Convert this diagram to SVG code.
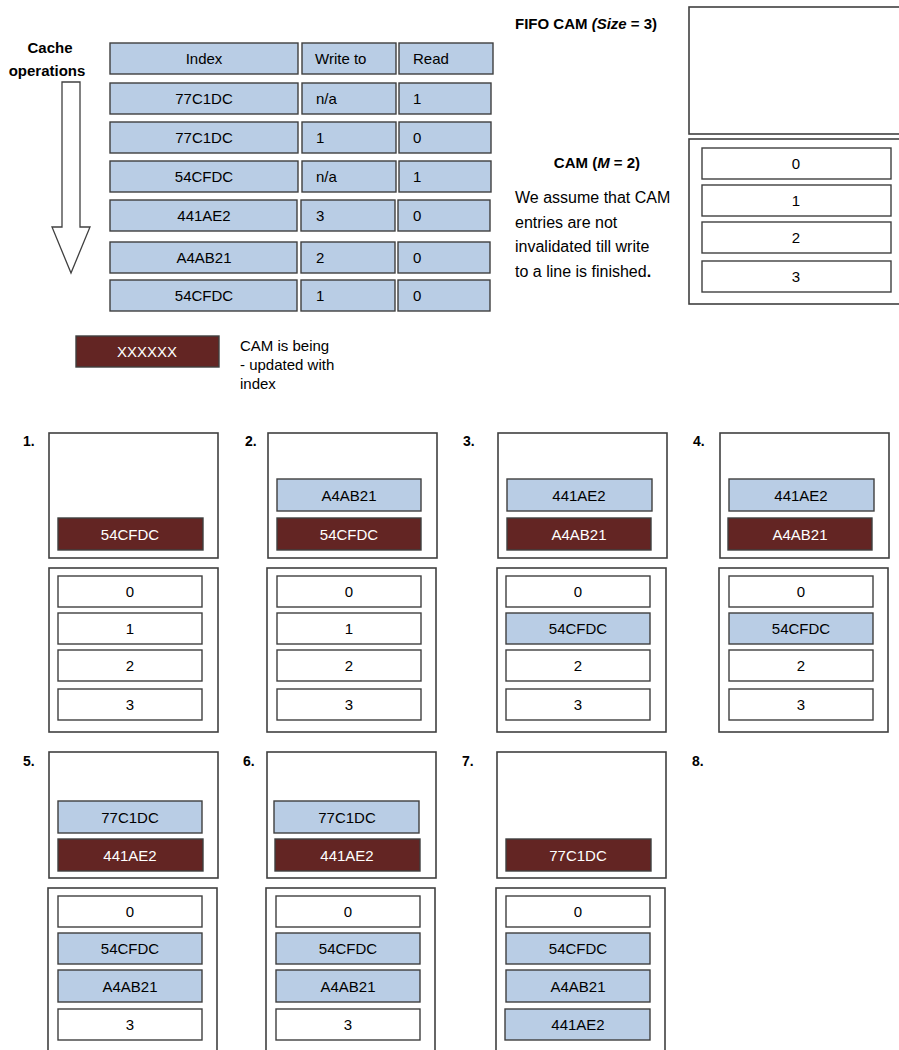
<svg xmlns="http://www.w3.org/2000/svg" width="899" height="1050" viewBox="0 0 899 1050">
  <style>
    text { font-family: "Liberation Sans", Arial, sans-serif; fill: #000; }
    .cell { fill: #b9cde5; stroke: #3f3f3f; stroke-width: 1.4; }
    .hot { fill: #632523; stroke: #3f3f3f; stroke-width: 1.4; }
    .slot { fill: #fff; stroke: #3f3f3f; stroke-width: 1.4; }
    .frame { fill: #fff; stroke: #404040; stroke-width: 1.6; }
    .t { font-size: 15px; }
    .p { font-size: 16px; }
    .c { font-size: 15px; text-anchor: middle; }
    .w { font-size: 15px; text-anchor: middle; fill: #fff; }
    .b { font-size: 14px; font-weight: bold; }
    .h { font-size: 15px; font-weight: bold; }
  </style>
  <rect width="899" height="1050" fill="#fff"/>

  <!-- cache operations arrow -->
  <g id="ops">
    <text class="h" x="50" y="53" text-anchor="middle">Cache</text>
    <text class="h" x="47" y="76" text-anchor="middle">operations</text>
    <path d="M62,82 L80,82 L80,227 L90,227 L71,273 L52,227 L62,227 Z" fill="#fff" stroke="#404040" stroke-width="1.3"/>
  </g>

  <!-- operation table -->
  <g id="table">
    <rect class="cell" x="110" y="43" width="188" height="31"/>
    <rect class="cell" x="302" y="43" width="94" height="31"/>
    <rect class="cell" x="399" y="43" width="94" height="31"/>
    <text class="c" x="204" y="64">Index</text>
    <text class="t" x="315" y="64">Write to</text>
    <text class="t" x="413" y="64">Read</text>

    <rect class="cell" x="110" y="83" width="188" height="31"/>
    <rect class="cell" x="302" y="83" width="94" height="31"/>
    <rect class="cell" x="399" y="83" width="92" height="31"/>
    <text class="c" x="204" y="104">77C1DC</text>
    <text class="t" x="316" y="104">n/a</text>
    <text class="t" x="413" y="104">1</text>

    <rect class="cell" x="110" y="122" width="188" height="31"/>
    <rect class="cell" x="302" y="122" width="94" height="31"/>
    <rect class="cell" x="399" y="122" width="92" height="31"/>
    <text class="c" x="204" y="143">77C1DC</text>
    <text class="t" x="316" y="143">1</text>
    <text class="t" x="413" y="143">0</text>

    <rect class="cell" x="110" y="161" width="188" height="31"/>
    <rect class="cell" x="302" y="161" width="94" height="31"/>
    <rect class="cell" x="399" y="161" width="92" height="31"/>
    <text class="c" x="204" y="182">54CFDC</text>
    <text class="t" x="316" y="182">n/a</text>
    <text class="t" x="413" y="182">1</text>

    <rect class="cell" x="110" y="200" width="187" height="31"/>
    <rect class="cell" x="301" y="200" width="94" height="31"/>
    <rect class="cell" x="398" y="200" width="92" height="31"/>
    <text class="c" x="204" y="221">441AE2</text>
    <text class="t" x="316" y="221">3</text>
    <text class="t" x="413" y="221">0</text>

    <rect class="cell" x="110" y="242" width="187" height="31"/>
    <rect class="cell" x="301" y="242" width="94" height="31"/>
    <rect class="cell" x="398" y="242" width="92" height="31"/>
    <text class="c" x="204" y="263">A4AB21</text>
    <text class="t" x="316" y="263">2</text>
    <text class="t" x="413" y="263">0</text>

    <rect class="cell" x="110" y="280" width="187" height="31"/>
    <rect class="cell" x="301" y="280" width="94" height="31"/>
    <rect class="cell" x="398" y="280" width="92" height="31"/>
    <text class="c" x="204" y="301">54CFDC</text>
    <text class="t" x="316" y="301">1</text>
    <text class="t" x="413" y="301">0</text>
  </g>

  <!-- FIFO CAM and CAM overview -->
  <g id="overview">
    <text class="h" x="515" y="29">FIFO CAM <tspan font-style="italic">(Size</tspan> = 3)</text>
    <rect class="frame" x="689" y="7" width="220" height="127"/>
    <text class="h" x="597" y="168" text-anchor="middle">CAM (<tspan font-style="italic">M</tspan> = 2)</text>
    <text class="p" x="515" y="203">We assume that CAM</text>
    <text class="p" x="515" y="228">entries are not</text>
    <text class="p" x="515" y="252">invalidated till write</text>
    <text class="p" x="515" y="277">to a line is finished<tspan font-weight="bold">.</tspan></text>
    <rect class="frame" x="689" y="139" width="220" height="165"/>
    <rect class="slot" x="702" y="148" width="189" height="31"/>
    <rect class="slot" x="702" y="185" width="189" height="31"/>
    <rect class="slot" x="702" y="222" width="189" height="31"/>
    <rect class="slot" x="702" y="261" width="189" height="31"/>
    <text class="c" x="796" y="169">0</text>
    <text class="c" x="796" y="206">1</text>
    <text class="c" x="796" y="243">2</text>
    <text class="c" x="796" y="282">3</text>
  </g>

  <!-- legend -->
  <g id="legend">
    <rect class="hot" x="76" y="336" width="143" height="31"/>
    <text class="w" x="147" y="357" font-size="13">XXXXXX</text>
    <text class="t" x="240" y="351" font-size="15.5">CAM is being</text>
    <text class="t" x="240" y="370" font-size="15.5">- updated with</text>
    <text class="t" x="240" y="389" font-size="15.5">index</text>
  </g>

  <!-- step 1 -->
  <g id="step1">
    <text class="b" x="23" y="446">1.</text>
    <g transform="translate(49,433)">
      <rect class="frame" x="0" y="0" width="169" height="125"/>
      <rect class="hot" x="9" y="85" width="145" height="32"/>
      <text class="w" x="81" y="107">54CFDC</text>
      <rect class="frame" x="0" y="135" width="169" height="164"/>
      <rect class="slot" x="9" y="143" width="144" height="31"/>
      <rect class="slot" x="9" y="180" width="144" height="31"/>
      <rect class="slot" x="9" y="217" width="144" height="31"/>
      <rect class="slot" x="9" y="256" width="144" height="31"/>
      <text class="c" x="81" y="164">0</text>
      <text class="c" x="81" y="201">1</text>
      <text class="c" x="81" y="238">2</text>
      <text class="c" x="81" y="277">3</text>
    </g>
  </g>

  <!-- step 2 -->
  <g id="step2">
    <text class="b" x="245" y="446">2.</text>
    <g transform="translate(268,433)">
      <rect class="frame" x="0" y="0" width="169" height="125"/>
      <rect class="cell" x="9" y="46" width="144" height="32"/>
      <text class="c" x="81" y="68">A4AB21</text>
      <rect class="hot" x="9" y="85" width="144" height="32"/>
      <text class="w" x="81" y="107">54CFDC</text>
      <rect class="frame" x="-1" y="135" width="169" height="164"/>
      <rect class="slot" x="9" y="143" width="144" height="31"/>
      <rect class="slot" x="9" y="180" width="144" height="31"/>
      <rect class="slot" x="9" y="217" width="144" height="31"/>
      <rect class="slot" x="9" y="256" width="144" height="31"/>
      <text class="c" x="81" y="164">0</text>
      <text class="c" x="81" y="201">1</text>
      <text class="c" x="81" y="238">2</text>
      <text class="c" x="81" y="277">3</text>
    </g>
  </g>

  <!-- step 3 -->
  <g id="step3">
    <text class="b" x="463" y="446">3.</text>
    <g transform="translate(498,433)">
      <rect class="frame" x="0" y="0" width="169" height="125"/>
      <rect class="cell" x="9" y="46" width="145" height="32"/>
      <text class="c" x="81" y="68">441AE2</text>
      <rect class="hot" x="9" y="85" width="144" height="32"/>
      <text class="w" x="81" y="107">A4AB21</text>
      <rect class="frame" x="-1" y="135" width="169" height="164"/>
      <rect class="slot" x="8" y="143" width="144" height="31"/>
      <rect class="cell" x="8" y="180" width="144" height="31"/>
      <rect class="slot" x="8" y="217" width="144" height="31"/>
      <rect class="slot" x="8" y="256" width="144" height="31"/>
      <text class="c" x="80" y="164">0</text>
      <text class="c" x="80" y="201">54CFDC</text>
      <text class="c" x="80" y="238">2</text>
      <text class="c" x="80" y="277">3</text>
    </g>
  </g>

  <!-- step 4 -->
  <g id="step4">
    <text class="b" x="693" y="446">4.</text>
    <g transform="translate(720,433)">
      <rect class="frame" x="0" y="0" width="169" height="125"/>
      <rect class="cell" x="9" y="46" width="145" height="32"/>
      <text class="c" x="81" y="68">441AE2</text>
      <rect class="hot" x="8" y="85" width="144" height="32"/>
      <text class="w" x="80" y="107">A4AB21</text>
      <rect class="frame" x="-1" y="135" width="169" height="164"/>
      <rect class="slot" x="9" y="143" width="144" height="31"/>
      <rect class="cell" x="9" y="180" width="144" height="31"/>
      <rect class="slot" x="9" y="217" width="144" height="31"/>
      <rect class="slot" x="9" y="256" width="144" height="31"/>
      <text class="c" x="81" y="164">0</text>
      <text class="c" x="81" y="201">54CFDC</text>
      <text class="c" x="81" y="238">2</text>
      <text class="c" x="81" y="277">3</text>
    </g>
  </g>

  <!-- step 5 -->
  <g id="step5">
    <text class="b" x="23" y="766">5.</text>
    <g transform="translate(49,752)">
      <rect class="frame" x="0" y="0" width="169" height="126"/>
      <rect class="cell" x="9" y="49" width="144" height="32"/>
      <text class="c" x="81" y="71">77C1DC</text>
      <rect class="hot" x="9" y="87" width="145" height="32"/>
      <text class="w" x="81" y="109">441AE2</text>
      <rect class="frame" x="-1" y="136" width="169" height="175"/>
      <rect class="slot" x="9" y="144" width="144" height="31"/>
      <rect class="cell" x="9" y="181" width="144" height="31"/>
      <rect class="cell" x="9" y="218" width="144" height="32"/>
      <rect class="slot" x="9" y="257" width="144" height="31"/>
      <text class="c" x="81" y="165">0</text>
      <text class="c" x="81" y="202">54CFDC</text>
      <text class="c" x="81" y="240">A4AB21</text>
      <text class="c" x="81" y="278">3</text>
    </g>
  </g>

  <!-- step 6 -->
  <g id="step6">
    <text class="b" x="243" y="766">6.</text>
    <g transform="translate(267,752)">
      <rect class="frame" x="0" y="0" width="169" height="126"/>
      <rect class="cell" x="7" y="49" width="145" height="32"/>
      <text class="c" x="80" y="71">77C1DC</text>
      <rect class="hot" x="8" y="87" width="145" height="32"/>
      <text class="w" x="80" y="109">441AE2</text>
      <rect class="frame" x="-1" y="136" width="169" height="175"/>
      <rect class="slot" x="9" y="144" width="144" height="31"/>
      <rect class="cell" x="9" y="181" width="144" height="31"/>
      <rect class="cell" x="9" y="218" width="144" height="32"/>
      <rect class="slot" x="9" y="257" width="144" height="31"/>
      <text class="c" x="81" y="165">0</text>
      <text class="c" x="81" y="202">54CFDC</text>
      <text class="c" x="81" y="240">A4AB21</text>
      <text class="c" x="81" y="278">3</text>
    </g>
  </g>

  <!-- step 7 -->
  <g id="step7">
    <text class="b" x="462" y="766">7.</text>
    <g transform="translate(497,752)">
      <rect class="frame" x="0" y="0" width="169" height="126"/>
      <rect class="hot" x="9" y="87" width="145" height="32"/>
      <text class="w" x="81" y="109">77C1DC</text>
      <rect class="frame" x="-1" y="136" width="169" height="175"/>
      <rect class="slot" x="9" y="144" width="144" height="31"/>
      <rect class="cell" x="9" y="181" width="144" height="31"/>
      <rect class="cell" x="9" y="218" width="144" height="32"/>
      <rect class="cell" x="8" y="257" width="145" height="31"/>
      <text class="c" x="81" y="165">0</text>
      <text class="c" x="81" y="202">54CFDC</text>
      <text class="c" x="81" y="240">A4AB21</text>
      <text class="c" x="81" y="278">441AE2</text>
    </g>
  </g>

  <!-- step 8 -->
  <g id="step8">
    <text class="b" x="692" y="766">8.</text>
  </g>
</svg>
